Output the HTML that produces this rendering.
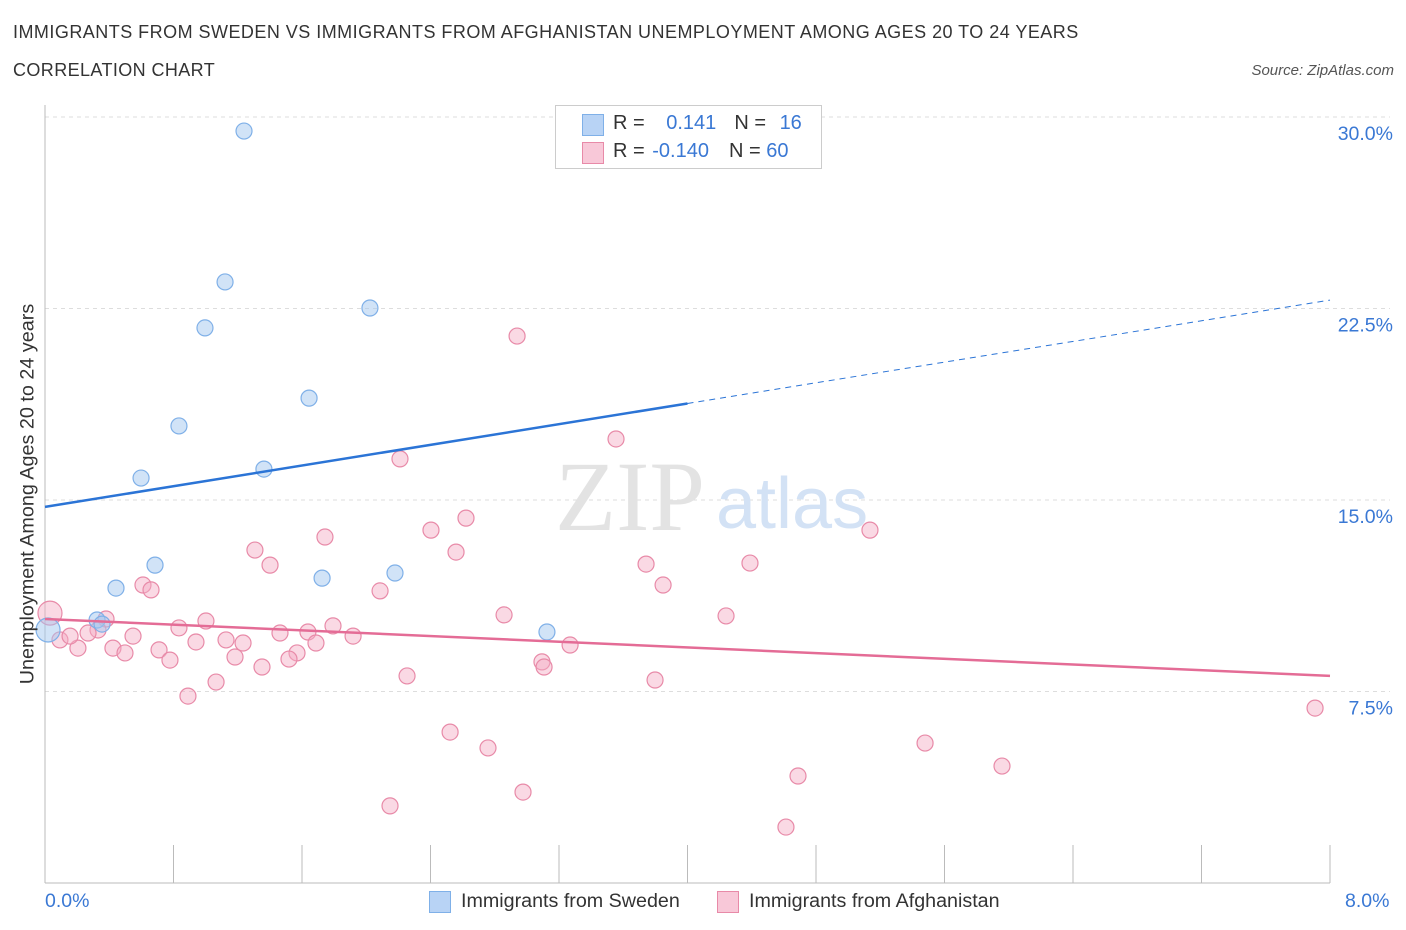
<!DOCTYPE html>
<html><head><meta charset="utf-8"><style>
body{margin:0;background:#fff;font-family:"Liberation Sans",sans-serif;}
#wrap{position:relative;width:1406px;height:930px;overflow:hidden}
.t{position:absolute;white-space:nowrap}
</style></head><body><div id="wrap">
<div class="t" style="left:13px;top:22px;font-size:18px;letter-spacing:0.47px;color:#333">IMMIGRANTS FROM SWEDEN VS IMMIGRANTS FROM AFGHANISTAN UNEMPLOYMENT AMONG AGES 20 TO 24 YEARS</div>
<div class="t" style="left:13px;top:60px;font-size:18px;letter-spacing:0.4px;color:#333">CORRELATION CHART</div>
<div class="t" style="right:12px;top:62px;font-size:15px;color:#555;font-style:italic">Source: ZipAtlas.com</div>
<svg id="svg" width="1406" height="930" style="position:absolute;left:0;top:0"></svg>
</div>
<script>
const blueX=[1.239,1.121,0.996,2.023,1.644,0.834,1.363,0.598,0.685,0.442,1.725,2.179,0.324,0.355,3.125];
const blueY=[29.45,23.54,21.74,22.52,18.99,17.90,16.21,15.86,12.45,11.55,11.94,12.14,10.30,10.14,9.83];
const pinkX=[2.939,3.555,2.210,2.621,2.403,1.743,1.307,2.559,1.401,3.742,4.389,5.136,0.610,0.660,3.848,2.086,2.858,4.240,0.380,0.330,1.002,1.793,0.834,1.463,1.637,1.918,0.548,1.127,1.233,0.940,1.687,0.423,0.498,0.710,1.569,3.269,3.094,3.107,0.778,1.183,1.519,1.351,2.254,3.798,1.065,0.890,7.907,2.522,2.758,5.479,5.958,4.688,2.976,2.148,4.613,0.093,0.205,0.156,0.268];
const pinkY=[21.42,17.39,16.61,14.29,13.82,13.55,13.04,12.96,12.45,12.49,12.53,13.82,11.67,11.48,11.67,11.44,10.50,10.46,10.34,9.91,10.26,10.07,9.99,9.79,9.83,9.67,9.67,9.52,9.40,9.44,9.40,9.20,9.01,9.13,9.01,9.32,8.66,8.46,8.73,8.85,8.77,8.46,8.11,7.95,7.87,7.32,6.85,5.91,5.29,5.48,4.58,4.19,3.56,3.02,2.19,9.52,9.20,9.67,9.79];
const yTicks=[7.5,15,22.5,30];
const yTickLabels=["7.5%","15.0%","22.5%","30.0%"];
const blueTrend=[14.73,22.83];
const pinkTrend=[10.34,8.11];
const X=v=>45+v/8*1285, Y=v=>883-v/30*766;
const s=document.getElementById('svg');const NS='http://www.w3.org/2000/svg';
function mk(t,a){const e=document.createElementNS(NS,t);for(const k in a)e.setAttribute(k,a[k]);s.appendChild(e);return e;}
yTicks.forEach((v,i)=>{
 const g=mk('line',{x1:45,x2:1390,y1:Y(v),y2:Y(v),stroke:'#ddd','stroke-dasharray':'4,4'});
 
 
 const t=mk('text',{x:1393,y:Y(v)+23,'text-anchor':'end','font-size':19.5,fill:'#3a78d4','font-family':'Liberation Sans'});t.textContent=yTickLabels[i];
 
 
});
mk('line',{x1:45,x2:45,y1:105,y2:883,stroke:'#bbb'});
mk('line',{x1:45,x2:1330,y1:883,y2:883,stroke:'#bbb'});
for(let i=0;i<=10;i++){const l=mk('line',{x1:X(i*0.8),x2:X(i*0.8),y1:845,y2:883,stroke:'#bbb'});
 
 }
const w1=mk('text',{x:555,y:530,'font-size':100,fill:'#e3e3e3','font-family':'Liberation Serif'});w1.textContent='ZIP';
const w2=mk('text',{x:716,y:528,'font-size':72,fill:'#d3e2f5','font-family':'Liberation Sans'});w2.textContent='atlas';
function dot(x,y,r,f,st,n){const c=mk('circle',{cx:X(x),cy:Y(y),r:r,fill:f,stroke:st,'stroke-width':1.2});
 
 }
pinkX.forEach((x,i)=>dot(x,pinkY[i],8,'rgba(244,170,195,0.45)','#e88aa8','afghanistan-point'));
dot(0.031,10.57,12,'rgba(244,170,195,0.45)','#e88aa8','afghanistan-point');
blueX.forEach((x,i)=>dot(x,blueY[i],8,'rgba(164,200,240,0.5)','#7fb0e8','sweden-point'));
dot(0.019,9.91,12,'rgba(164,200,240,0.5)','#7fb0e8','sweden-point');
const bm=blueTrend[0]+(blueTrend[1]-blueTrend[0])*4/8;
const bl=mk('line',{x1:X(0),y1:Y(blueTrend[0]),x2:X(4),y2:Y(bm),stroke:'#2b74d6','stroke-width':2.5});


const bd=mk('line',{x1:X(4),y1:Y(bm),x2:X(8),y2:Y(blueTrend[1]),stroke:'#2b74d6','stroke-width':1,'stroke-dasharray':'6,5'});


const pl=mk('line',{x1:X(0),y1:Y(pinkTrend[0]),x2:X(8),y2:Y(pinkTrend[1]),stroke:'#e46c96','stroke-width':2.5});


</script>
<div class="t" style="left:555px;top:105px;width:265px;height:62px;border:1px solid #ccc;background:#fff"></div>
<div class="t" style="left:582px;top:114px;width:20px;height:20px;background:#b8d3f5;border:1px solid #7fb0e8"></div>
<div class="t" style="left:582px;top:142px;width:20px;height:20px;background:#f8c8d8;border:1px solid #e88aa8"></div>
<div class="t" style="left:613px;top:112px;font-size:20px;color:#333">R = <span style="color:#3a78d4;margin-left:16px">0.141</span><span style="margin-left:18px">N = </span><span style="color:#3a78d4;margin-left:8px">16</span></div>
<div class="t" style="left:613px;top:140px;font-size:20px;color:#333">R = <span style="color:#3a78d4;margin-left:2px">-0.140</span><span style="margin-left:20px">N = </span><span style="color:#3a78d4">60</span></div>
<div class="t" style="left:28px;top:494px;font-size:19.8px;color:#333;transform:translate(-50%,-50%) rotate(-90deg)">Unemployment Among Ages 20 to 24 years</div>
<div class="t" style="left:45px;top:890px;font-size:19.5px;color:#3a78d4">0.0%</div>
<div class="t" style="left:1345px;top:890px;font-size:19.5px;color:#3a78d4">8.0%</div>
<div class="t" style="left:429px;top:891px;width:20px;height:20px;background:#b8d3f5;border:1px solid #7fb0e8"></div>
<div class="t" style="left:461px;top:890px;font-size:19.7px;color:#333">Immigrants from Sweden</div>
<div class="t" style="left:717px;top:891px;width:20px;height:20px;background:#f8c8d8;border:1px solid #e88aa8"></div>
<div class="t" style="left:749px;top:890px;font-size:19.7px;color:#333">Immigrants from Afghanistan</div>
</body></html>
